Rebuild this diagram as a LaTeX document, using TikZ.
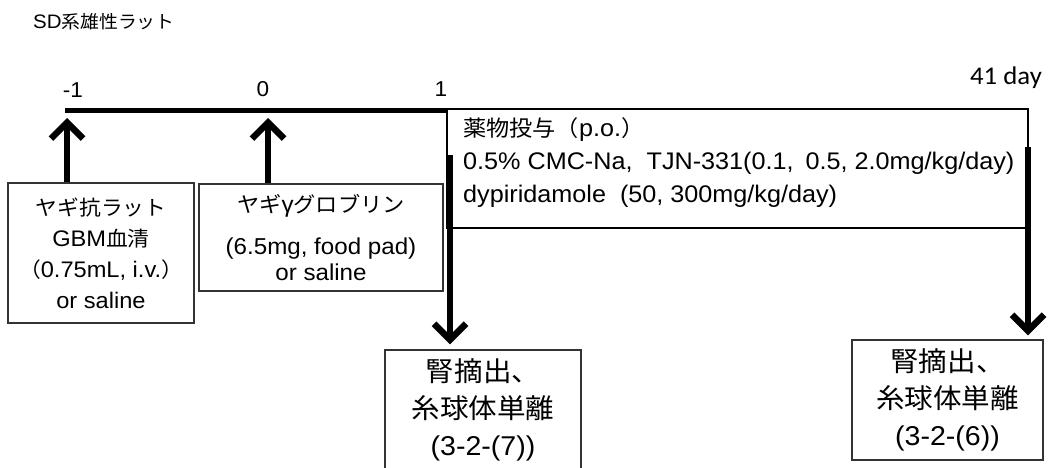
\documentclass[tikz,border=0pt]{standalone}
\usepackage{fontspec}
\setmainfont{Liberation Sans}[FakeStretch=1.05]
\newfontfamily\jp{Noto Sans CJK JP}[FakeStretch=1.05,Scale=0.92]
\newfontfamily\jpb{Noto Sans CJK JP}[FakeStretch=1.05]
\newfontfamily\calfont{Carlito}[FakeStretch=1.05]
\newcommand\J[1]{{\jp #1}}
\newcommand\JB[1]{{\jpb #1}}
\usetikzlibrary{arrows.meta}
\begin{document}
\begin{tikzpicture}[x=1pt,y=-1pt,
  box/.style={draw=black!80, line width=1.3pt, inner sep=0pt, align=center},
  bodyfont/.style={font=\fontsize{22.5}{31}\selectfont},
  resfont/.style={font=\fontsize{27.2}{37}\selectfont},
  lab/.style={inner sep=0pt, font=\fontsize{21.5}{25}\selectfont},
  tlarrow/.style={line width=5.5pt, -{Straight Barb[length=16pt,width=32pt,line width=6.5pt]}},
  tlbar/.style={line width=5pt}]
\useasboundingbox (0,0) rectangle (1049,468);

% title and day labels
\node[inner sep=0pt, anchor=west, font=\fontsize{19.5}{24}\selectfont] (title) at (33,22) {SD\J{系雄性ラット}};
\node[lab] (lm1) at (73,90) {-1};
\node[lab] (l0) at (263,89) {0};
\node[lab] (l1) at (441,89) {1};
\node[inner sep=0pt, font=\fontsize{25.5}{28}\selectfont\calfont] (l41) at (1006,78) {41 day};

% boxes
\node[box, bodyfont, minimum width=186pt, minimum height=140pt] (b1) at (101,253)
  {\J{ヤギ抗ラット}\\GBM\J{血清}\\\J{（}0.75mL, i.v.\J{）}\\or saline};
\node[box, font=\fontsize{23}{26}\selectfont, minimum width=244pt, minimum height=107pt] (b2) at (321,237.5)
  {\J{ヤギ}γ\J{グロブリン}\\[16pt](6.5mg, food pad)\\or saline};
\node[draw, line width=2.8pt, minimum width=581pt, minimum height=119pt, inner sep=0pt] (drug) at (737.5,168.5) {};
\node[anchor=north west, inner sep=0pt, align=left, font=\fontsize{24}{33}\selectfont] (drugtxt) at (463,117)
  {\J{薬物投与（}p.o.\J{）}\\0.5\% CMC-Na,\hspace{14pt}TJN-331(0.1,\hspace{12pt}0.5, 2.0mg/kg/day)\\dypiridamole\hspace{14pt}(50, 300mg/kg/day)};
\node[box, resfont, minimum width=196pt, minimum height=120pt] (r1) at (483,410)
  {\JB{腎摘出、}\\\JB{糸球体単離}\\(3-2-(7))};
\node[box, resfont, minimum width=191pt, minimum height=120pt] (r2) at (947.5,400)
  {\JB{腎摘出、}\\\JB{糸球体単離}\\(3-2-(6))};

% timeline
\coordinate (tl0) at (65,110.5);
\draw[tlbar] (tl0) -- (tl0 -| drug.west);

% up arrows
\coordinate (u1) at (67,113);
\coordinate (u2) at (268,113);
\draw[tlarrow, shorten >=5pt] (b1.north -| u1) -- (u1);
\draw[tlarrow, shorten >=5pt] (b2.north -| u2) -- (u2);

% down arrows
\coordinate (d1) at (450,155);
\coordinate (d2) at (1028,147);
\draw[tlarrow, shorten >=5pt] (d1) -- (r1.north -| d1);
\draw[tlarrow, shorten >=4pt] (d2) -- (r2.north -| d2);
\end{tikzpicture}
\end{document}
